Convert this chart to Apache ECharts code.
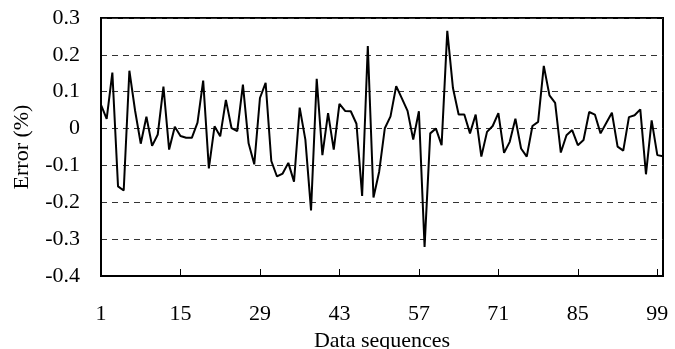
<!DOCTYPE html>
<html>
<head>
<meta charset="utf-8">
<script src="https://cdn.jsdelivr.net/npm/echarts@6/dist/echarts.min.js"></script>
<style>
  html, body { margin: 0; padding: 0; background: #fff; }
  #chart { width: 675px; height: 349px; }
</style>
</head>
<body>
<div id="chart"></div>
<script>
  // x categories: data sequence numbers 1..100
  let sequences = Array.from({ length: 100 }, (_, i) => String(i + 1))

  // error values (%)
  let errors = [
    0.064, 0.026, 0.152, -0.157, -0.168, 0.157, 0.049, -0.041, 0.032, -0.047,
    -0.016, 0.114, -0.057, 0.005, -0.020, -0.025, -0.025, 0.016, 0.130, -0.108,
    0.006, -0.021, 0.078, 0.001, -0.007, 0.119, -0.040, -0.097, 0.083, 0.124,
    -0.088, -0.130, -0.122, -0.093, -0.144, 0.057, -0.030, -0.222, 0.135, -0.072,
    0.042, -0.057, 0.067, 0.048, 0.047, 0.013, -0.183, 0.224, -0.187, -0.117,
    0.001, 0.033, 0.115, 0.082, 0.048, -0.030, 0.047, -0.321, -0.013, 0.000,
    -0.045, 0.265, 0.110, 0.038, 0.038, -0.013, 0.038, -0.076, -0.009, 0.007,
    0.042, -0.066, -0.036, 0.027, -0.054, -0.076, 0.007, 0.018, 0.170, 0.090,
    0.070, -0.065, -0.018, -0.004, -0.045, -0.031, 0.045, 0.038, -0.013, 0.015,
    0.043, -0.049, -0.060, 0.031, 0.036, 0.052, -0.124, 0.022, -0.072, -0.075
  ]

  // y tick labels from -0.4 to 0.3
  let yTicks = ['-0.4', '-0.3', '-0.2', '-0.1', '0', '0.1', '0.2', '0.3']

  let font = 'Liberation Serif'
  let myChart = echarts.init(document.getElementById('chart'))

  myChart.setOption({
    animation: false,
    grid: {
      left: 101,
      right: 12,
      top: 18,
      bottom: 73,
      outerBoundsMode: 'none',
      show: true,
      borderColor: '#000',
      borderWidth: 2
    },
    xAxis: {
      type: 'category',
      data: sequences,
      boundaryGap: false,
      name: 'Data sequences',
      nameLocation: 'middle',
      nameGap: 47,
      nameTextStyle: { fontFamily: font, fontSize: 22, color: '#000' },
      axisLine: { onZero: false, lineStyle: { color: '#000', width: 2 } },
      axisTick: { inside: true, interval: 13, length: 7, lineStyle: { color: '#000', width: 1 } },
      axisLabel: { interval: 13, margin: 27, fontFamily: font, fontSize: 22, color: '#000' },
      splitLine: { show: false }
    },
    yAxis: {
      type: 'value',
      min: -0.4,
      max: 0.3,
      interval: 0.1,
      name: 'Error (%)',
      nameLocation: 'middle',
      nameGap: 68,
      nameTextStyle: { fontFamily: font, fontSize: 22, color: '#000' },
      axisLine: { show: true, onZero: false, lineStyle: { color: '#000', width: 2 } },
      axisTick: { show: false },
      axisLabel: {
        margin: 21,
        fontFamily: font,
        fontSize: 22,
        color: '#000',
        formatter: v => yTicks[Math.round((v + 0.4) * 10)]
      },
      splitLine: { show: true, lineStyle: { color: '#333', width: 1, type: [6, 5] } }
    },
    series: [
      {
        name: 'Error',
        type: 'line',
        data: errors,
        showSymbol: false,
        lineStyle: { color: '#000', width: 2 }
      }
    ]
  })
</script>
</body>
</html>
